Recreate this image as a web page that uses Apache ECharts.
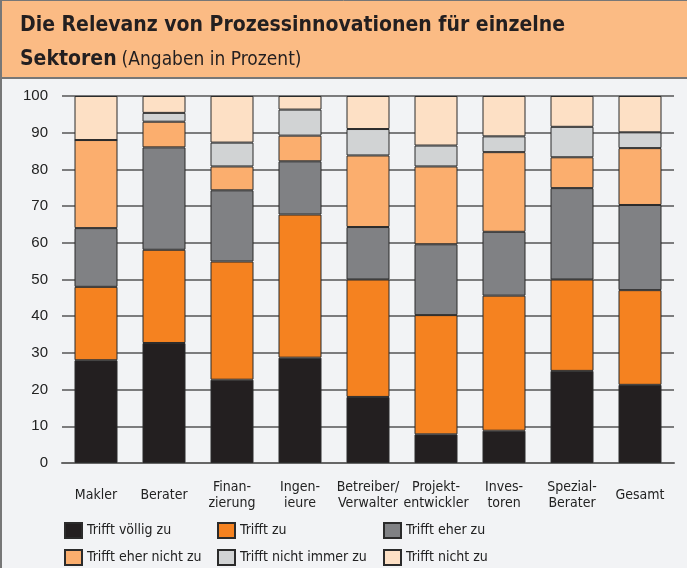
<!DOCTYPE html>
<html>
<head>
<meta charset="utf-8">
<script src="https://cdn.jsdelivr.net/npm/echarts@6/dist/echarts.min.js"></script>
<style>
  html, body { margin: 0; padding: 0; background: #f2f3f5; }
  #chart { width: 687px; height: 568px; }
</style>
</head>
<body>
<div id="chart"></div>
<script>
// Kategorien und Werte (Prozent), von unten nach oben gestapelt
const categories = ['Makler', 'Berater', 'Finan-\nzierung', 'Ingen-\nieure', 'Betreiber/\nVerwalter',
  'Projekt-\nentwickler', 'Inves-\ntoren', 'Spezial-\nBerater', 'Gesamt'];
const seriesNames = ['Trifft völlig zu', 'Trifft zu', 'Trifft eher zu',
  'Trifft eher nicht zu', 'Trifft nicht immer zu', 'Trifft nicht zu'];
const voelligZu = [28, 32.7, 22.7, 28.7, 18, 7.8, 8.8, 25.1, 21.3];
const triffZu = [20, 25.4, 32.2, 39.0, 32, 32.5, 36.8, 24.9, 25.8];
const eherZu = [16, 27.9, 19.4, 14.5, 14.3, 19.3, 17.4, 24.9, 23.2];
const eherNichtZu = [24, 7.0, 6.5, 7.0, 19.5, 21.2, 21.7, 8.4, 15.5];
const nichtImmerZu = [0, 2.4, 6.5, 7.1, 7.2, 5.7, 4.3, 8.3, 4.3];
const nichtZu = [12, 4.6, 12.7, 3.7, 9, 13.5, 11, 8.4, 9.9];
const yTicks = [0, 10, 20, 30, 40, 50, 60, 70, 80, 90, 100];

const values = [voelligZu, triffZu, eherZu, eherNichtZu, nichtImmerZu, nichtZu];
const colors = ['#231f20', '#f58220', '#808184', '#fbae6e', '#d1d3d4', '#fde0c5'];

const narrow = '"Liberation Sans Narrow", "DejaVu Sans Condensed", sans-serif';

const chart = echarts.init(document.getElementById('chart'));

// Legende: 3 Spalten x 2 Zeilen, je Eintrag eine eigene Legende
const legendPos = [[64, 522], [217, 522], [383, 522], [64, 549], [217, 549], [383, 549]];
const legendOrder = [0, 1, 2, 3, 4, 5];

chart.setOption({
  backgroundColor: '#f2f3f5',
  animation: false,
  graphic: [
    { type: 'rect', shape: { x: 0, y: 0, width: 687, height: 78 }, style: { fill: '#fbbb84' }, z: -10 },
    { type: 'line', shape: { x1: 0, y1: 78, x2: 687, y2: 78 }, style: { stroke: '#777', lineWidth: 2 } },
    { type: 'line', shape: { x1: 0, y1: 0.5, x2: 687, y2: 0.5 }, style: { stroke: '#777', lineWidth: 1 } },
    { type: 'line', shape: { x1: 1, y1: 0, x2: 1, y2: 568 }, style: { stroke: '#777', lineWidth: 2 } },
  ],
  title: {
    left: 15,
    top: 4,
    text: '{b|Die Relevanz von Prozessinnovationen für einzelne}\n{b|Sektoren} {r|(Angaben in Prozent)}',
    textStyle: {
      rich: {
        b: { fontFamily: narrow, fontWeight: 'bold', fontSize: 21, color: '#231f20', lineHeight: 34 },
        r: { fontFamily: narrow, fontWeight: 'normal', fontSize: 19, color: '#231f20', lineHeight: 34 },
      },
    },
  },
  legend: legendOrder.map((idx, k) => ({
    left: legendPos[k][0],
    top: legendPos[k][1],
    icon: 'rect',
    itemWidth: 17,
    itemHeight: 15,
    padding: 0,
    data: [seriesNames[idx]],
    textStyle: { fontFamily: narrow, fontSize: 14, color: '#222' },
  })),
  grid: { left: 62, right: 13, top: 96, bottom: 105 },
  xAxis: {
    type: 'category',
    data: categories,
    axisTick: { show: false },
    axisLine: { lineStyle: { color: '#666', width: 2 } },
    axisLabel: {
      interval: 0,
      fontFamily: narrow,
      fontSize: 14,
      color: '#222',
      lineHeight: 16,
      verticalAlign: 'middle',
      margin: 32,
    },
  },
  yAxis: {
    type: 'value',
    min: yTicks[0],
    max: yTicks[yTicks.length - 1],
    interval: 10,
    axisLine: { show: false },
    axisTick: { show: false },
    axisLabel: { fontFamily: '"Liberation Sans", sans-serif', fontSize: 15, color: '#222', margin: 14 },
    splitLine: { lineStyle: { color: '#555', width: 1.5 } },
  },
  series: seriesNames.map((name, i) => ({
    name: name,
    type: 'bar',
    stack: 'total',
    barWidth: 43,
    data: values[i],
    itemStyle: { color: colors[i], borderColor: '#2b2b2b', borderWidth: 1 },
  })),
});
</script>
</body>
</html>
